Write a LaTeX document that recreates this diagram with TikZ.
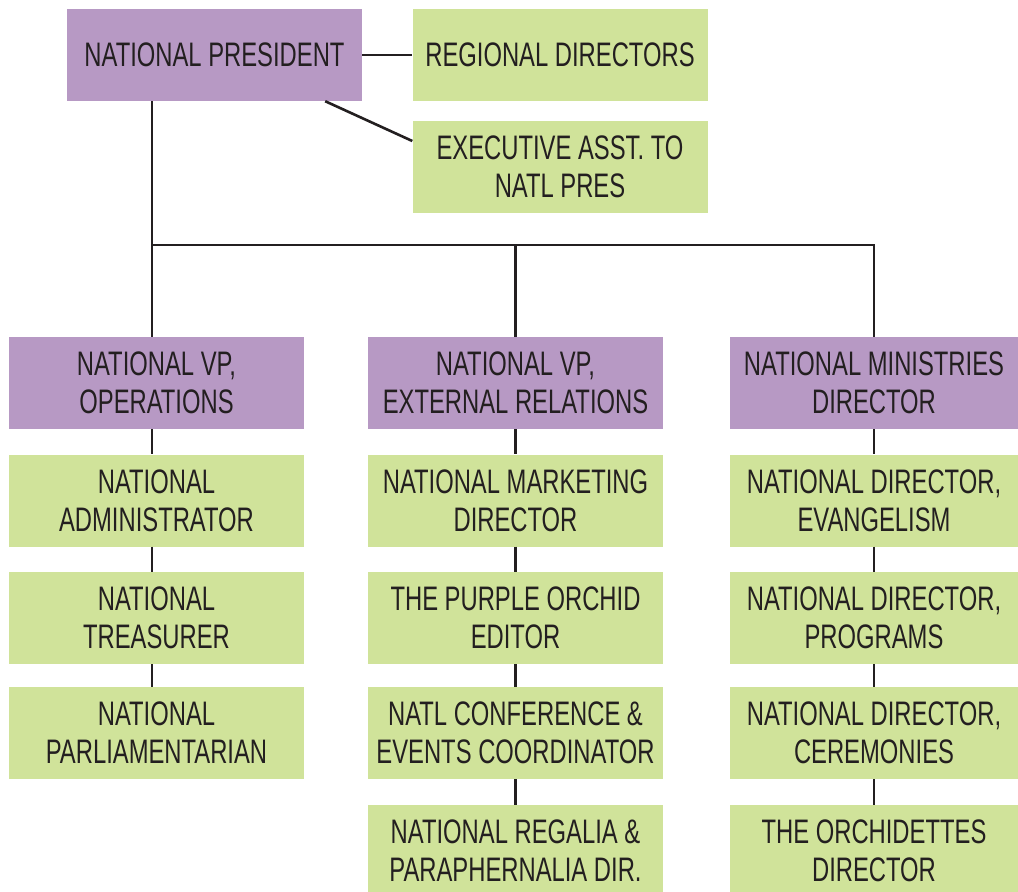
\documentclass[tikz,border=0pt]{standalone}
\usepackage{fontspec}
\setmainfont[FakeStretch=0.70]{Liberation Sans}
\usetikzlibrary{positioning}
\definecolor{orchid}{RGB}{183,153,196}
\definecolor{leaf}{RGB}{208,227,154}
\definecolor{ink}{RGB}{35,31,32}

\begin{document}
\begin{tikzpicture}[x=1pt, y=-1pt,
      box/.style={minimum width=295pt, minimum height=92pt, inner sep=0pt, align=center,
        text=ink, font=\fontsize{34}{38}\selectfont},
      head/.style={box, fill=orchid},
      staff/.style={box, fill=leaf},
      link/.style={draw=ink, line width=2.6pt}
    ]
    \useasboundingbox (0,0) rectangle (1018,892);

    % top
    \node [head] (pres) at (214.5, 55) {NATIONAL PRESIDENT};
    \node [staff] (regdir) at (560, 55) {REGIONAL DIRECTORS};
    \node [staff] (exec) at (560, 167) {EXECUTIVE ASST. TO\\NATL PRES};

    % column heads
    \node [head] (vp1) at (156.5, 383) {NATIONAL VP,\\OPERATIONS};
    \node [head] (vp2) at (515.5, 383) {NATIONAL VP,\\EXTERNAL RELATIONS};
    \node [head, minimum width=288pt] (vp3) at (874, 383) {NATIONAL MINISTRIES\\DIRECTOR};

    % operations
    \node [staff] (adm) at (156.5, 500.5) {NATIONAL\\ADMINISTRATOR};
    \node [staff] (tre) at (156.5, 618) {NATIONAL\\TREASURER};
    \node [staff] (par) at (156.5, 733) {NATIONAL\\PARLIAMENTARIAN};

    % external relations
    \node [staff] (mkt) at (515.5, 500.5) {NATIONAL MARKETING\\DIRECTOR};
    \node [staff] (edi) at (515.5, 618) {THE PURPLE ORCHID\\EDITOR};
    \node [staff] (evt) at (515.5, 733) {NATL CONFERENCE \&\\EVENTS COORDINATOR};
    \node [staff] (reg) at (515.5, 851) {NATIONAL REGALIA \&\\PARAPHERNALIA DIR.};

    % ministries
    \node [staff, minimum width=288pt] (eva) at (874, 500.5) {NATIONAL DIRECTOR,\\EVANGELISM};
    \node [staff, minimum width=288pt] (prg) at (874, 618) {NATIONAL DIRECTOR,\\PROGRAMS};
    \node [staff, minimum width=288pt] (cer) at (874, 733) {NATIONAL DIRECTOR,\\CEREMONIES};
    \node [staff, minimum width=288pt] (orc) at (874, 851) {THE ORCHIDETTES\\DIRECTOR};

    % links
    \coordinate (bus) at (152, 245);
    \draw[link] (pres) -- (regdir);
    \draw[link] ([xshift=-37pt]pres.south east) -- ([yshift=26pt]exec.west);
    \draw[link] (pres.south -| bus) -- (vp1.north -| bus);
    \draw[link] (bus) -| (vp2.north);
    \draw[link] (bus) -| (vp3.north);

    \draw[link] (vp1.south -| bus) -- (adm.north -| bus);
    \draw[link] (adm.south -| bus) -- (tre.north -| bus);
    \draw[link] (tre.south -| bus) -- (par.north -| bus);

    \draw[link] (vp2) -- (mkt);
    \draw[link] (mkt) -- (edi);
    \draw[link] (edi) -- (evt);
    \draw[link] (evt) -- (reg);

    \draw[link] (vp3) -- (eva);
    \draw[link] (eva) -- (prg);
    \draw[link] (prg) -- (cer);
    \draw[link] (cer) -- (orc);

\end{tikzpicture}
\end{document}
